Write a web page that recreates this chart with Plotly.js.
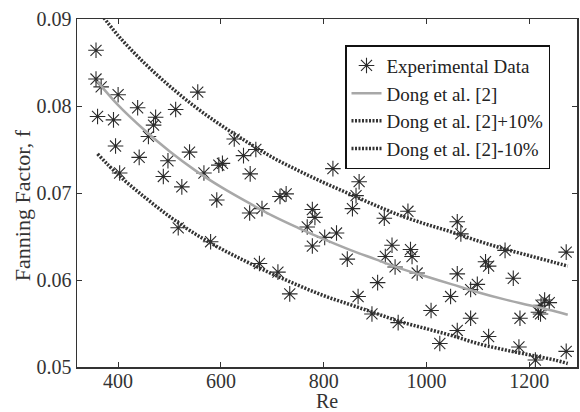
<!DOCTYPE html>
<html>
<head>
<meta charset="utf-8">
<script src="https://cdn.plot.ly/plotly-3.0.1.min.js"></script>
<style>html,body{margin:0;padding:0;background:#fff;}#chart{width:580px;height:412px;}</style>
</head>
<body>
<div id="chart"></div>
<script>
// Experimental data (Re, Fanning factor)
var reExp = [357,357,367,360,400,391,395,403,438,441,
             473,469,459,488,497,512,524,517,539,555,
             567,592,596,603,580,626,644,657,668,656,
             680,675,711,715,727,734,768,778,783,778,
             802,825,818,846,856,863,869,867,894,905,
             918,920,933,939,945,964,969,972,982,1009,
             1026,1047,1060,1060,1067,1060,1086,1086,1099,1115,
             1121,1121,1153,1169,1182,1180,1212,1218,1223,1222,
             1230,1239,1272,1272];
var fExp = [0.0864,0.0831,0.0822,0.0788,0.0813,0.0784,0.0754,0.0723,0.0798,0.0741,
            0.0787,0.0778,0.0765,0.0719,0.0737,0.0796,0.0707,0.0660,0.0747,0.0816,
            0.0723,0.0692,0.0732,0.0734,0.0644,0.0762,0.0743,0.0722,0.0750,0.0677,
            0.0682,0.0619,0.0609,0.0696,0.0699,0.0584,0.0661,0.0681,0.0672,0.0639,
            0.0649,0.0654,0.0728,0.0624,0.0682,0.0697,0.0713,0.0581,0.0561,0.0597,
            0.0671,0.0627,0.0640,0.0615,0.0551,0.0679,0.0635,0.0627,0.0608,0.0565,
            0.0527,0.0581,0.0607,0.0667,0.0653,0.0542,0.0589,0.0556,0.0595,0.0621,
            0.0616,0.0535,0.0634,0.0602,0.0556,0.0523,0.0508,0.0563,0.0571,0.0561,
            0.0577,0.0574,0.0632,0.0518];

// Correlation curves
var reCurve = [360,400,450,500,550,600,650,700,750,800,850,900,950,1000,1050,1100,1150,1200,1250,1275];
var fDong = [0.0828,0.0801,0.0773,0.0748,0.0726,0.0707,0.0690,0.0674,0.0660,0.0647,
             0.0635,0.0624,0.0613,0.0604,0.0595,0.0586,0.0578,0.0571,0.0564,0.0560];
var fDongPlus = [0.0911,0.0881,0.0850,0.0823,0.0799,0.0778,0.0759,0.0741,0.0726,0.0712,
                 0.0699,0.0686,0.0674,0.0664,0.0655,0.0645,0.0636,0.0628,0.0620,0.0616];
var fDongMinus = [0.0745,0.0721,0.0696,0.0673,0.0653,0.0636,0.0621,0.0607,0.0594,0.0582,
                  0.0572,0.0562,0.0552,0.0544,0.0536,0.0527,0.0520,0.0514,0.0508,0.0504];

var xTicks = [400,600,800,1000,1200];
var yTicks = [0.05,0.06,0.07,0.08,0.09];
var names = ['Experimental Data','Dong et al. [2]','Dong et al. [2]+10%','Dong et al. [2]-10%'];
var xTitle = 'Re';
var yTitle = 'Fanning Factor, f';

var font = {family:'"Liberation Serif","Times New Roman",serif', size:20, color:'#333'};
var yTitleFont = {family:'"Liberation Serif","Times New Roman",serif', size:22, color:'#333'};
var legendFont = {family:'"Liberation Serif","Times New Roman",serif', size:19, color:'#222'};

var traces = [
  {x:reExp, y:fExp, mode:'markers', type:'scatter', name:names[0],
   marker:{symbol:'asterisk-open', size:13, color:'#2b2b2b', line:{color:'#2b2b2b', width:1.1}}},
  {x:reCurve, y:fDong, mode:'lines', type:'scatter', name:names[1], line:{shape:'spline', color:'#a8a8a8', width:2.5}},
  {x:reCurve, y:fDongPlus, mode:'lines', type:'scatter', name:names[2], line:{shape:'spline', color:'#333', width:3.5, dash:'2px,1.5px'}},
  {x:reCurve, y:fDongMinus, mode:'lines', type:'scatter', name:names[3], line:{shape:'spline', color:'#333', width:3.5, dash:'2px,1.5px'}}
];

var axisCommon = {showgrid:false, zeroline:false, showline:true, linecolor:'#333', linewidth:1.5,
  mirror:'ticks', ticks:'inside', ticklen:5, tickcolor:'#333', tickwidth:1, tickfont:font};

var layout = {
  width:580, height:412,
  margin:{l:77, r:3, t:19, b:45},
  paper_bgcolor:'#fff', plot_bgcolor:'#fff',
  font:font,
  showlegend:true,
  legend:{x:0.946, xanchor:'right', y:0.925, yanchor:'top', bgcolor:'#fff',
          bordercolor:'#111', borderwidth:1.5, font:legendFont, tracegroupgap:0},
  xaxis:Object.assign({}, axisCommon, {range:[320,1293], tickvals:xTicks, ticktext:xTicks.map(String),
          ticklabelstandoff:-5,
          title:{text:xTitle, font:font, standoff:10}}),
  yaxis:Object.assign({}, axisCommon, {range:[0.05,0.09], tickvals:yTicks, ticktext:yTicks.map(function(v){return v.toFixed(2);})}),
  annotations:[{text:yTitle, xref:'paper', yref:'paper', x:-0.11, y:0.465, xanchor:'center', yanchor:'middle',
                textangle:-90, showarrow:false, font:yTitleFont}]
};

Plotly.newPlot('chart', traces, layout, {displayModeBar:false, staticPlot:true});
</script>
</body>
</html>
